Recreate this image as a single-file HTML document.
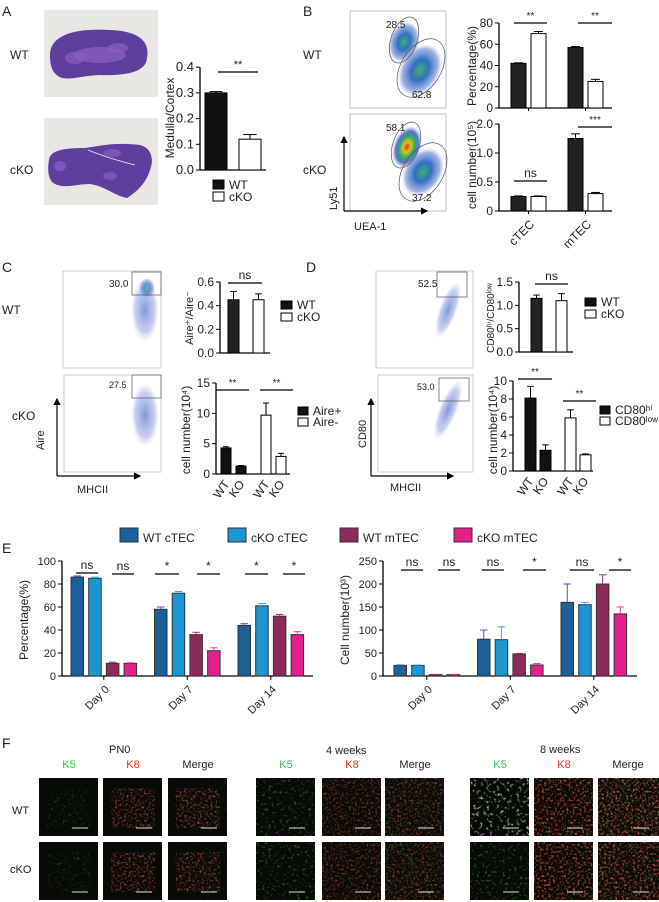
<!DOCTYPE html>
<html><head><meta charset="utf-8">
<style>
html,body{margin:0;padding:0;background:#fff;}
svg{display:block;font-family:"Liberation Sans",Arial,sans-serif;}
text{fill:#222;}
</style></head>
<body>
<svg id="fig" width="659" height="902" viewBox="0 0 659 902" xmlns="http://www.w3.org/2000/svg">
<defs>
  <radialGradient id="flowHot" cx="50%" cy="50%" r="50%">
    <stop offset="0" stop-color="#e03020"/><stop offset="0.25" stop-color="#e0c020"/>
    <stop offset="0.5" stop-color="#30b060"/><stop offset="0.75" stop-color="#3050c0" stop-opacity="0.8"/>
    <stop offset="1" stop-color="#90a0e0" stop-opacity="0"/>
  </radialGradient>
  <radialGradient id="flowMid" cx="50%" cy="50%" r="50%">
    <stop offset="0" stop-color="#40b070"/><stop offset="0.4" stop-color="#3070c0"/>
    <stop offset="0.8" stop-color="#6080d0" stop-opacity="0.6"/><stop offset="1" stop-color="#a0b0e0" stop-opacity="0"/>
  </radialGradient>
  <radialGradient id="flowLow" cx="50%" cy="50%" r="50%">
    <stop offset="0" stop-color="#6080d0" stop-opacity="0.8"/><stop offset="0.7" stop-color="#90a0e0" stop-opacity="0.5"/>
    <stop offset="1" stop-color="#c0c8f0" stop-opacity="0"/>
  </radialGradient>
  <filter id="speckG" x="0" y="0" width="100%" height="100%">
    <feTurbulence type="fractalNoise" baseFrequency="0.35" numOctaves="2" seed="3"/>
    <feColorMatrix type="matrix" values="0 0 0 0 0.1  0 0 0 0 0.7  0 0 0 0 0.15  0 0 0 3.2 -1.9"/>
  </filter>
  <filter id="speckR" x="0" y="0" width="100%" height="100%">
    <feTurbulence type="fractalNoise" baseFrequency="0.45" numOctaves="2" seed="7"/>
    <feColorMatrix type="matrix" values="0 0 0 0 0.85  0 0 0 0 0.1  0 0 0 0 0.08  0 0 0 3.0 -1.5"/>
  </filter>
  <filter id="speckY" x="0" y="0" width="100%" height="100%">
    <feTurbulence type="fractalNoise" baseFrequency="0.4" numOctaves="2" seed="11"/>
    <feColorMatrix type="matrix" values="0 0 0 0 0.9  0 0 0 0 0.85  0 0 0 0 0.2  0 0 0 3.0 -2.0"/>
  </filter>
  <filter id="speckW" x="0" y="0" width="100%" height="100%">
    <feTurbulence type="fractalNoise" baseFrequency="0.3" numOctaves="2" seed="5"/>
    <feColorMatrix type="matrix" values="0 0 0 0 0.7  0 0 0 0 0.95  0 0 0 0 0.75  0 0 0 3.2 -1.8"/>
  </filter>
  <marker id="arr" markerWidth="6" markerHeight="6" refX="5" refY="3" orient="auto"><path d="M0,0 L6,3 L0,6 z" fill="#000"/></marker>
</defs>

<text x="2" y="16" font-size="14">A</text>
<text x="303" y="16" font-size="14">B</text>
<text x="2" y="272" font-size="14">C</text>
<text x="306" y="272" font-size="14">D</text>
<text x="2" y="553" font-size="14">E</text>
<text x="2" y="748" font-size="14">F</text>

<text x="10" y="59" font-size="12">WT</text>
<text x="10" y="174" font-size="12">cKO</text>
<g>
  <rect x="44" y="10" width="114" height="87" fill="#e9e7e3"/>
  <path d="M50,55 C50,35 75,28 110,30 C140,31 150,42 147,58 C146,70 132,76 100,75 C80,76 72,80 62,78 C52,74 50,66 50,55 Z" fill="#5e3f9e"/>
  <ellipse cx="100" cy="55" rx="26" ry="8" fill="#8a5cc0" opacity="0.8"/>
  <ellipse cx="75" cy="58" rx="10" ry="6" fill="#8a5cc0" opacity="0.7"/>
  <ellipse cx="118" cy="48" rx="10" ry="5" fill="#8a5cc0" opacity="0.7"/>
</g>
<g>
  <rect x="44" y="118" width="114" height="87" fill="#e9e7e3"/>
  <path d="M49,160 C50,150 65,148 85,148 C100,146 115,142 140,145 C152,148 154,160 150,170 C147,180 140,190 127,198 C115,196 105,186 90,184 C75,184 62,190 52,182 C47,175 48,166 49,160 Z" fill="#5e3f9e"/>
  <ellipse cx="60" cy="166" rx="6" ry="5" fill="#8a5cc0" opacity="0.8"/>
  <ellipse cx="112" cy="153" rx="9" ry="4" fill="#8a5cc0" opacity="0.7"/>
  <ellipse cx="110" cy="176" rx="7" ry="4" fill="#8a5cc0" opacity="0.7"/>
  <path d="M88,150 C100,155 115,160 135,165" stroke="#eee" stroke-width="0.8" fill="none"/>
</g>

<text x="303" y="59" font-size="12">WT</text>
<text x="303" y="174" font-size="12">cKO</text>
<g>
  <rect x="350" y="11" width="96" height="97" fill="#fff" stroke="#999" stroke-width="0.6"/>
  <ellipse cx="404" cy="42" rx="15" ry="21" fill="url(#flowMid)" transform="rotate(20 404 42)"/>
  <ellipse cx="420" cy="70" rx="20" ry="28" fill="url(#flowMid)" transform="rotate(30 420 70)"/>
  <ellipse cx="404" cy="40" rx="13" ry="24" fill="none" stroke="#555" stroke-width="0.7" transform="rotate(20 404 40)"/>
  <ellipse cx="421" cy="68" rx="20" ry="32" fill="none" stroke="#555" stroke-width="0.7" transform="rotate(32 421 68)"/>
  <text x="386" y="28" font-size="10">28.5</text><text x="412" y="98" font-size="10">62.8</text>
</g>
<g>
  <rect x="350" y="114" width="96" height="97" fill="#fff" stroke="#999" stroke-width="0.6"/>
  <ellipse cx="407" cy="147" rx="14" ry="22" fill="url(#flowHot)" transform="rotate(20 407 147)"/>
  <ellipse cx="423" cy="172" rx="19" ry="26" fill="url(#flowMid)" transform="rotate(32 423 172)"/>
  <ellipse cx="406" cy="145" rx="13" ry="24" fill="none" stroke="#555" stroke-width="0.7" transform="rotate(20 406 145)"/>
  <ellipse cx="423" cy="172" rx="20" ry="32" fill="none" stroke="#555" stroke-width="0.7" transform="rotate(32 423 172)"/>
  <text x="386" y="131" font-size="10">58.1</text><text x="412" y="201" font-size="10">37.2</text>
</g>
<line x1="344" y1="211" x2="344" y2="137" stroke="#000" stroke-width="1.2" marker-end="url(#arr)"/>
<line x1="344" y1="211" x2="427" y2="211" stroke="#000" stroke-width="1.2" marker-end="url(#arr)"/>
<text x="354" y="230" font-size="11">UEA-1</text>
<text transform="translate(337,210) rotate(-90)" font-size="11">Ly51</text>

<text x="2" y="314" font-size="12">WT</text>
<text x="12" y="420" font-size="12">cKO</text>
<g>
  <rect x="63" y="271" width="98" height="97" fill="#fff" stroke="#aaa" stroke-width="0.6"/>
  <ellipse cx="145" cy="310" rx="14" ry="32" fill="url(#flowLow)"/>
  <ellipse cx="147" cy="288" rx="8" ry="10" fill="url(#flowMid)" opacity="0.7"/>
  <rect x="132" y="272" width="29" height="23" fill="none" stroke="#555" stroke-width="0.7"/>
  <text x="109" y="287" font-size="10">30.0</text>
</g>
<g>
  <rect x="64" y="375" width="97" height="97" fill="#fff" stroke="#aaa" stroke-width="0.6"/>
  <ellipse cx="145" cy="415" rx="14" ry="32" fill="url(#flowLow)"/>
  <rect x="132" y="375" width="29" height="23" fill="none" stroke="#555" stroke-width="0.7"/>
  <text x="109" y="388" font-size="9">27.5</text>
</g>
<line x1="57" y1="476" x2="57" y2="399" stroke="#000" stroke-width="1.2" marker-end="url(#arr)"/>
<line x1="57" y1="476" x2="140" y2="476" stroke="#000" stroke-width="1.2" marker-end="url(#arr)"/>
<text x="77" y="493" font-size="11">MHCII</text>
<text transform="translate(44,450) rotate(-90)" font-size="11">Aire</text>

<g>
  <rect x="376" y="271" width="97" height="97" fill="#fff" stroke="#aaa" stroke-width="0.6"/>
  <ellipse cx="448" cy="310" rx="9" ry="30" fill="url(#flowLow)" transform="rotate(20 448 310)"/>
  <rect x="437" y="272" width="30" height="25" fill="none" stroke="#555" stroke-width="0.7"/>
  <text x="418" y="287" font-size="10">52.5</text>
</g>
<g>
  <rect x="378" y="375" width="95" height="97" fill="#fff" stroke="#aaa" stroke-width="0.6"/>
  <ellipse cx="448" cy="410" rx="9" ry="32" fill="url(#flowLow)" transform="rotate(22 448 410)"/>
  <rect x="439" y="378" width="30" height="23" fill="none" stroke="#555" stroke-width="0.7"/>
  <text x="417" y="390" font-size="9">53.0</text>
</g>
<line x1="371" y1="476" x2="371" y2="399" stroke="#000" stroke-width="1.2" marker-end="url(#arr)"/>
<line x1="371" y1="476" x2="453" y2="476" stroke="#000" stroke-width="1.2" marker-end="url(#arr)"/>
<text x="390" y="491" font-size="11">MHCII</text>
<text transform="translate(366,448) rotate(-90)" font-size="11">CD80</text>

<g id="charts"></g>

<g>
  <text x="109" y="753" font-size="11">PN0</text>
  <text x="326" y="754" font-size="11">4 weeks</text>
  <text x="540" y="753" font-size="11">8 weeks</text>
  <text x="12" y="814" font-size="11">WT</text>
  <text x="10" y="873" font-size="11">cKO</text>
</g>
<g id="fimgs"></g>
</svg>
<script>
const NS='http://www.w3.org/2000/svg';
const aCats=['WT','cKO'];
const aValues=[0.30,0.12];
const aErrors=[0.005,0.018];
const aTicks=[0,0.1,0.2,0.3,0.4];
const bCats=['cTEC','mTEC'];
const bPctWT=[42,57];
const bPctKO=[70,25];
const bPctErrWT=[0.5,0.8];
const bPctErrKO=[2,2];
const bPctTicks=[0,20,40,60,80];
const bNumWT=[0.25,1.25];
const bNumKO=[0.25,0.30];
const bNumErrWT=[0.01,0.08];
const bNumErrKO=[0.01,0.02];
const bNumTicks=[0,0.5,1.0,1.5];
const bNumTickLabels=['0','0.5','1.0','2.0'];
const cRatio=[0.45,0.45];
const cRatioErr=[0.07,0.05];
const cRatioTicks=[0,0.2,0.4,0.6];
const cAirePos=[4.3,1.3];
const cAireNeg=[9.7,2.9];
const cAirePosErr=[0.2,0.1];
const cAireNegErr=[2.0,0.5];
const cNumTicks=[0,5,10,15];
const dRatio=[1.15,1.1];
const dRatioErr=[0.07,0.15];
const dRatioTicks=[0,0.5,1.0,1.5];
const dHi=[8.1,2.3];
const dLow=[5.9,1.8];
const dHiErr=[1.3,0.6];
const dLowErr=[0.9,0.1];
const dNumTicks=[0,2,4,6,8,10];
const eDays=['Day 0','Day 7','Day 14'];
const eSeries=['WT cTEC','cKO cTEC','WT mTEC','cKO mTEC'];
const ePctWTcTEC=[86,58,44];
const ePctKOcTEC=[85,72,61];
const ePctWTmTEC=[11,36,52];
const ePctKOmTEC=[11,22,36];
const ePctErr=[[1,2,1.5],[1,1.5,2],[1,2,1.5],[0.5,2.5,2.5]];
const ePctTicks=[0,20,40,60,80,100];
const eNumWTcTEC=[23,80,160];
const eNumKOcTEC=[23,79,155];
const eNumWTmTEC=[3,48,200];
const eNumKOmTEC=[3,24,135];
const eNumErr=[[1,20,40],[1,28,5],[0.5,1,20],[0.5,3,15]];
const eNumTicks=[0,50,100,150,200,250];

const root=document.getElementById('charts');
function el(tag,attrs,parent){const e=document.createElementNS(NS,tag);for(const k in attrs)e.setAttribute(k,attrs[k]);(parent||root).appendChild(e);return e;}
function fmt(v){return String(v);}

function yAxis(g,ax,y0,scale,ticks,labels,fs,xEnd){
  const top=y0-ticks[ticks.length-1]*scale;
  const yl=el('line',{x1:ax,y1:y0,x2:ax,y2:top,stroke:'#000','stroke-width':1.3},g);
  
  
  ticks.forEach((t,i)=>{
    const y=y0-t*scale;
    el('line',{x1:ax-4,y1:y,x2:ax,y2:y,stroke:'#000','stroke-width':1},g);
    const tx=el('text',{x:ax-6,y:y+4,'font-size':fs,'text-anchor':'end'},g);
    tx.textContent=labels?labels[i]:fmt(t);
    
    
  });
  const xl=el('line',{x1:ax,y1:y0,x2:xEnd,y2:y0,stroke:'#000','stroke-width':1.3},g);
  
  
  return v=>y0-v*scale;
}
function bar(g,x,w,y0,ys,v,err,fill,stroke,errColor,name){
  const yt=ys(v);
  const r=el('rect',{x:x,y:yt,width:w,height:y0-yt,fill:fill,stroke:stroke||'#000','stroke-width':1},g);
  
  
  if(err>0){
    const ye=ys(v+err), c=x+w/2;
    el('line',{x1:c,y1:yt,x2:c,y2:ye,stroke:errColor||'#000','stroke-width':1},g);
    el('line',{x1:c-w*0.3,y1:ye,x2:c+w*0.3,y2:ye,stroke:errColor||'#000','stroke-width':1},g);
  }
}
function txt(g,x,y,s,fs,anchor,rot,name){
  const t=el('text',{x:x,y:y,'font-size':fs,'text-anchor':anchor||'start'},g);
  if(rot)t.setAttribute('transform','rotate('+rot+' '+x+' '+y+')');
  t.textContent=s;
  
  
  return t;
}
function sig(g,x1,x2,y,s,fs){
  el('line',{x1:x1,y1:y,x2:x2,y2:y,stroke:'#000','stroke-width':1.2},g);
  txt(g,(x1+x2)/2,y-4,s,fs||11,'middle',0,'significance-label');
}
function legendEntry(g,x,y,fill,label,fs,w,h,name,stroke){
  const r=el('rect',{x:x,y:y,width:w||10,height:h||8,fill:fill,stroke:stroke||'#000','stroke-width':1},g);
  
  
  txt(g,x+(w||10)+5,y+(h||8),label,fs,'start',0,name+'-text');
}
function group(name){const g=el('g',{});return g;}

(function(){
  const g=group('a-medulla-cortex-chart');
  const y0=170, sc=257;
  const ys=yAxis(g,200,y0,sc,aTicks,['0.0','0.1','0.2','0.3','0.4'],13,266);
  const fills=['#111','#fff'];
  aCats.forEach((c,i)=>bar(g,205+i*34,22,y0,ys,aValues[i],aErrors[i],fills[i],'#000','#000','bar-a-'+c));
  sig(g,218,258,72,'**',11);
  txt(g,174,118,'Medulla/Cortex',12,'middle',-90,'a-y-axis-title');
  legendEntry(g,213,180,'#111','WT',12,11,9,'legend-wt');
  legendEntry(g,213,192,'#fff','cKO',12,11,9,'legend-cko');
})();

(function(){
  const g=group('b-percentage-chart');
  const y0=108, sc=85/80;
  const ys=yAxis(g,499,y0,sc,bPctTicks,null,12,612);
  bCats.forEach((c,i)=>{
    const x=511+i*57;
    bar(g,x,15,y0,ys,bPctWT[i],bPctErrWT[i],'#222','#000','#000','bar-b-pct-wt-'+c);
    bar(g,x+20,15,y0,ys,bPctKO[i],bPctErrKO[i],'#fff','#000','#000','bar-b-pct-cko-'+c);
    el('line',{x1:x+17.5,y1:y0,x2:x+17.5,y2:y0+3,stroke:'#000'},g);
  });
  sig(g,514,547,23,'**',10); sig(g,578,612,23,'**',10);
  txt(g,476,66,'Percentage(%)',12,'middle',-90,'b-pct-y-axis-title');
  const g2=group('b-cell-number-chart');
  const y1=211, sc2=58;
  const ys2=yAxis(g2,499,y1,sc2,bNumTicks,bNumTickLabels,12,612);
  bCats.forEach((c,i)=>{
    const x=511+i*57;
    bar(g2,x,15,y1,ys2,bNumWT[i],bNumErrWT[i],'#222','#000','#000','bar-b-num-wt-'+c);
    bar(g2,x+20,15,y1,ys2,bNumKO[i],bNumErrKO[i],'#fff','#000','#000','bar-b-num-cko-'+c);
    el('line',{x1:x+17.5,y1:y1,x2:x+17.5,y2:y1+3,stroke:'#000'},g2);
    txt(g2,x+24,y1+14,c,12,'end',-45,'b-x-label-'+c);
  });
  sig(g2,514,547,181,'ns',12); sig(g2,578,612,127,'***',10);
  txt(g2,476,165,'cell number(10\u2075)',12,'middle',-90,'b-num-y-axis-title');
})();

(function(){
  const g=group('c-aire-ratio-chart');
  const y0=353, sc=71/0.6;
  const ys=yAxis(g,220,y0,sc,cRatioTicks,['0.0','0.2','0.4','0.6'],12,270);
  const fills=['#222','#fff'];
  cRatio.forEach((v,i)=>bar(g,228+i*25,11,y0,ys,v,cRatioErr[i],fills[i],'#000','#000','bar-c-ratio-'+i));
  sig(g,228,262,283,'ns',12);
  txt(g,193,318,'Aire\u207A/Aire\u207B',11,'middle',-90,'c-ratio-y-axis-title');
  legendEntry(g,281,301,'#111','WT',12,11,8,'c-legend-wt');
  legendEntry(g,281,313,'#fff','cKO',12,11,8,'c-legend-cko');
  const g2=group('c-aire-number-chart');
  const y1=474, sc2=91/15;
  const ys2=yAxis(g2,216,y1,sc2,cNumTicks,null,12,290);
  const groups=[cAirePos,cAireNeg], errs=[cAirePosErr,cAireNegErr], gf=['#111','#fff'];
  const lbl=['WT','KO'];
  groups.forEach((arr,gi)=>arr.forEach((v,si)=>{
    const x=221+gi*40+si*15;
    bar(g2,x,10,y1,ys2,v,errs[gi][si],gf[gi],'#000','#000','bar-c-num-'+gi+'-'+si);
    txt(g2,x+9,y1+10,lbl[si],12,'end',-55,'c-x-label');
  }));
  sig(g2,216,249,390,'**',10); sig(g2,260,293,390,'**',10);
  txt(g2,190,430,'cell number(10\u2074)',12,'middle',-90,'c-num-y-axis-title');
  legendEntry(g2,298,407,'#111','Aire+',12,10,8,'c-legend-aire-pos');
  legendEntry(g2,298,418,'#fff','Aire-',12,10,8,'c-legend-aire-neg');
})();

(function(){
  const g=group('d-cd80-ratio-chart');
  const y0=352, sc=70/1.5;
  const ys=yAxis(g,519,y0,sc,dRatioTicks,['0.0','0.5','1.0','1.5'],12,573);
  const fills=['#222','#fff'];
  dRatio.forEach((v,i)=>bar(g,531+i*25,11,y0,ys,v,dRatioErr[i],fills[i],'#000','#000','bar-d-ratio-'+i));
  sig(g,535,568,284,'ns',12);
  txt(g,494,318,'CD80\u02B0\u2071/CD80\u02E1\u1D52\u02B7',10,'middle',-90,'d-ratio-y-axis-title');
  legendEntry(g,585,298,'#111','WT',12,11,8,'d-legend-wt');
  legendEntry(g,585,310,'#fff','cKO',12,11,8,'d-legend-cko');
  const g2=group('d-cd80-number-chart');
  const y1=471, sc2=9;
  const ys2=yAxis(g2,513,y1,sc2,dNumTicks,null,12,593);
  const groups=[dHi,dLow], errs=[dHiErr,dLowErr], gf=['#111','#fff'], lbl=['WT','KO'];
  groups.forEach((arr,gi)=>arr.forEach((v,si)=>{
    const x=525+gi*40+si*15;
    bar(g2,x,11,y1,ys2,v,errs[gi][si],gf[gi],'#000','#000','bar-d-num-'+gi+'-'+si);
    txt(g2,x+9,y1+10,lbl[si],12,'end',-55,'d-x-label');
  }));
  sig(g2,518,552,379,'**',10); sig(g2,563,596,401,'**',10);
  txt(g2,497,430,'cell number(10\u2074)',12,'middle',-90,'d-num-y-axis-title');
  legendEntry(g2,600,406,'#111','CD80\u02B0\u2071',12,10,8,'d-legend-hi');
  legendEntry(g2,600,417,'#fff','CD80\u02E1\u1D52\u02B7',12,10,8,'d-legend-low');
})();

const eColors=['#1c5f99','#1a96d2','#8c2a58','#e2208c'];
const eErrColors=['#5a4cc0','#3aa8e8','#a0305e','#e04090'];
(function(){
  const lg=group('e-legend');
  const lx=[120,228,340,454];
  eSeries.forEach((s,i)=>legendEntry(lg,lx[i],528,eColors[i],s,12,18,14,'e-legend-'+i,'#333'));
  function chart(name,ax,scale,ticks,series,errs,start,endX,ylabel,sigs){
    const g=group(name);
    const y0=676;
    const ys=yAxis(g,ax,y0,scale,ticks,null,11,endX);
    eDays.forEach((d,di)=>{
      const gx=start+di*83.5;
      series.forEach((arr,si)=>bar(g,gx+si*17.7,12.5,y0,ys,arr[di],errs[si][di],eColors[si],'#333',eErrColors[si],'bar-e-'+si+'-'+di));
      const cx=gx+(3*17.7+12.5)/2;
      el('line',{x1:cx,y1:y0,x2:cx,y2:y0+4,stroke:'#000'},g);
      txt(g,cx+6,y0+14,d,11,'end',-45,'e-x-label');
    });
    sigs.forEach(s=>sig(g,s[0],s[1],s[2],s[3],12));
    txt(g,ax-34,620,ylabel,12,'middle',-90,name+'-y-title');
  }
  chart('e-percentage-chart',62,1.15,ePctTicks,[ePctWTcTEC,ePctKOcTEC,ePctWTmTEC,ePctKOmTEC],ePctErr,71,313,'Percentage(%)',
    [[76,98,573,'ns'],[112,134,574,'ns'],[155,179,574,'*'],[197,220,574,'*'],[245,268,574,'*'],[283,305,574,'*']]);
  chart('e-cell-number-chart',383,0.46,eNumTicks,[eNumWTcTEC,eNumKOcTEC,eNumWTmTEC,eNumKOmTEC],eNumErr,394,637,'Cell number(10\u00B3)',
    [[401,423,570,'ns'],[438,460,570,'ns'],[482,504,570,'ns'],[523,546,570,'*'],[570,594,570,'ns'],[609,631,570,'*']]);
})();

(function(){
  const fg=document.getElementById('fimgs');
  const cols=[[39,103,168],[256,322,385],[470,534,598]];
  const rows=[778,842];
  const heads=['K5','K8','Merge'], headColors=['#2fc04a','#e03020','#222'];
  cols.forEach((set,si)=>{
    set.forEach((x,ci)=>{
      txt(fg,x+30,768,heads[ci],11,'middle',0,'f-channel-label');
      fg.lastChild.style.fill=headColors[ci];
      rows.forEach((y,ri)=>{
        const w=set===cols[2]&&ci===2?61:59;
        const g=el('g',{},fg);
        
        
        el('rect',{x:x,y:y,width:w,height:58,fill:'#080a06'},g);
        const pn0=si===0;
        const filt=ci===0?(si===2&&ri===0?'speckW':'speckG'):'speckR';
        if(pn0){
          el('ellipse',{cx:x+30,cy:y+30,rx:22,ry:20,fill:'#000',filter:'url(#'+filt+')',opacity:ci===0?0.35:0.7},g);
        } else {
          el('rect',{x:x,y:y,width:w,height:58,filter:'url(#'+filt+')',opacity:ci===0?(si===2&&ri===0?0.9:0.6):(si===2?0.9:0.55)},g);
        }
        if(ci===2){
          el('rect',{x:x,y:y,width:w,height:58,filter:'url(#speckG)',opacity:pn0?0.15:0.4},g);
          if(si===2&&ri===0) el('rect',{x:x,y:y,width:w,height:58,filter:'url(#speckY)',opacity:0.8},g);
        }
        el('line',{x1:x+w-26,y1:y+50,x2:x+w-10,y2:y+50,stroke:'#ddd','stroke-width':1},g);
      });
    });
  });
})();
</script>
</body></html>
